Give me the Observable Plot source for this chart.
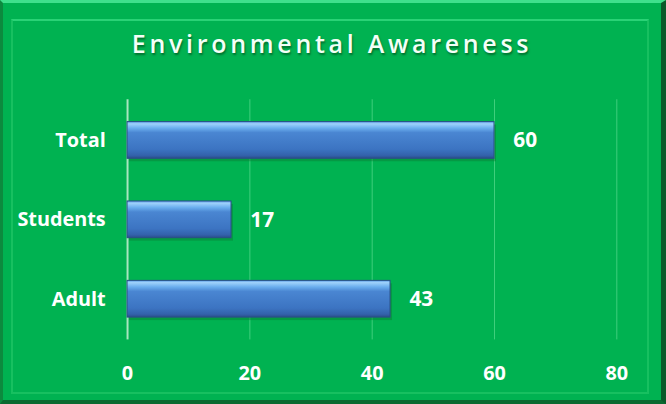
<!DOCTYPE html>
<html>
<head>
<meta charset="utf-8">
<script src="https://cdn.jsdelivr.net/npm/d3@7"></script>
<script src="https://cdn.jsdelivr.net/npm/@observablehq/plot@0.6"></script>
<style>
  html, body { margin: 0; padding: 0; background: #ffffff; }
  #frame {
    position: relative; width: 666px; height: 404px; box-sizing: border-box;
    background: #00b251;
    border-top: 3px solid #3fe08c;
    border-left: 3px solid #0c8a3e;
    border-right: 5px solid #0a5a2a;
    border-bottom: 4px solid #0b6a31;
    overflow: hidden;
  }
  #inner {
    position: absolute; left: 8px; top: 16px; right: 12px; bottom: 6px;
    border: 2px solid #17c060;
    border-top-color: #2ad276;
    pointer-events: none;
  }
  #title {
    position: absolute; left: 0; right: 0; top: 23px; text-align: center;
    font-family: "Open Sans", sans-serif; font-weight: 600; font-size: 25px;
    letter-spacing: 3.7px; color: #f4fff7;
    text-shadow: 1px 2px 2px rgba(0,60,20,0.55);
  }
  #chart { position: absolute; left: -3px; top: -3px; }
</style>
</head>
<body>
<div id="frame">
  <div id="inner"></div>
  <div id="title">Environmental Awareness</div>
  <div id="chart"></div>
</div>
<script>
const categories = ["Total", "Students", "Adult"];
const values = [60, 17, 43];
const xTicks = [0, 20, 40, 60, 80];

const data = categories.map((c, i) => ({category: c, value: values[i]}));

const plot = Plot.plot({
  width: 666,
  height: 404,
  marginTop: 100,
  marginBottom: 62,
  marginLeft: 128,
  marginRight: 45,
  style: {background: "transparent", color: "white", fontFamily: "'Open Sans', sans-serif"},
  x: {domain: [0, 80], ticks: xTicks, label: null},
  y: {domain: categories, label: null, padding: 0},
  marks: [
    Plot.ruleX(xTicks.filter(d => d > 0), {stroke: "#3fcf7d", strokeWidth: 1}),
    Plot.ruleX([0], {stroke: "#a8e6c0", strokeWidth: 2}),
    Plot.barX(data, {x: "value", y: "category", insetTop: 21.5, insetBottom: 21.5, fill: "#0a7a35", fillOpacity: 0.45, dx: 2, dy: 3}),
    Plot.barX(data, {x: "value", y: "category", insetTop: 21.5, insetBottom: 21.5, fill: "url(#barGrad)", stroke: "#2b4f86", strokeWidth: 1}),
    Plot.text(data, {x: "value", y: "category", text: d => String(d.value), textAnchor: "start", dx: 19, fill: "white", fontSize: 21, fontWeight: "bold"}),
    Plot.axisX({ticks: xTicks, tickSize: 0, tickPadding: 26, fontSize: 20, fontWeight: "bold", fill: "white"}),
    Plot.axisY({tickSize: 0, tickPadding: 22, fontSize: 20, fontWeight: "bold", fill: "white"})
  ]
});

const svg = d3.select(plot);
const defs = svg.insert("defs", ":first-child");
const g = defs.append("linearGradient").attr("id", "barGrad").attr("x1", 0).attr("y1", 0).attr("x2", 0).attr("y2", 1);
[["0%", "#5a9ae6"], ["6%", "#9fd2fb"], ["18%", "#6aaeee"], ["30%", "#4a86d2"], ["75%", "#3c74c2"], ["92%", "#3362ac"], ["100%", "#2a4f8a"]]
  .forEach(([o, c]) => g.append("stop").attr("offset", o).attr("stop-color", c));
document.getElementById("chart").appendChild(plot);
</script>
</body>
</html>
